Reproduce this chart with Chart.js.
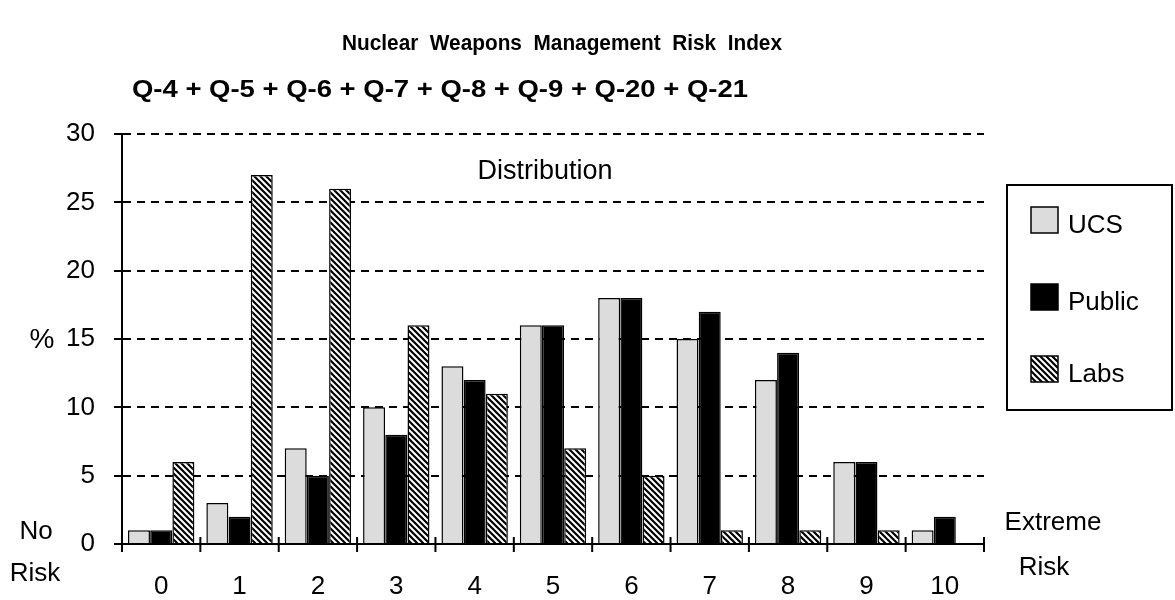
<!DOCTYPE html>
<html>
<head>
<meta charset="utf-8">
<script src="https://cdn.jsdelivr.net/npm/chart.js@4"></script>
<style>
  body { margin: 0; background: #fff; }
  #wrap { width: 1175px; height: 600px; }
</style>
</head>
<body>
<div id="wrap"><canvas id="riskChart" width="1175" height="600"></canvas></div>
<script>
// Values (percent of respondents)
const categories = ['0', '1', '2', '3', '4', '5', '6', '7', '8', '9', '10'];
const ucsValues = [1, 3, 7, 10, 13, 16, 18, 15, 12, 6, 1];
const publicValues = [1, 2, 5, 8, 12, 16, 18, 17, 14, 6, 2];
const labsValues = [6, 27, 26, 16, 11, 7, 5, 1, 1, 1, null];
const seriesNames = ['UCS', 'Public', 'Labs'];
const yTicks = [0, 5, 10, 15, 20, 25, 30];

const FONT = '"Liberation Sans", Arial, sans-serif';

// diagonal hatch for the Labs bars
function makeHatch() {
    const c = document.createElement('canvas');
    c.width = 6;
    c.height = 6;
    const g = c.getContext('2d');
    g.fillStyle = '#fff';
    g.fillRect(0, 0, 6, 6);
    g.strokeStyle = '#000';
    g.lineWidth = 2.2;
    g.beginPath();
    g.moveTo(-1, -1); g.lineTo(7, 7);
    g.moveTo(-1, 5); g.lineTo(1, 7);
    g.moveTo(5, -1); g.lineTo(7, 1);
    g.stroke();
    return g.createPattern(c, 'repeat');
}
const hatch = makeHatch();
const fills = ['#dcdcdc', '#000000', hatch];

// text fitted to a given width (the original type is stretched sideways)
function fitText(ctx, text, x, y, width, align) {
    const w = ctx.measureText(text).width;
    ctx.save();
    ctx.translate(x, y);
    ctx.scale(width / w, 1);
    ctx.textAlign = align;
    ctx.fillText(text, 0, 0);
    ctx.restore();
}

const decorations = {
    id: 'decorations',
    afterDraw(chart) {
        const ctx = chart.ctx;
        ctx.save();
        ctx.fillStyle = '#000';
        ctx.textBaseline = 'middle';

        ctx.font = 'bold 22px ' + FONT;
        fitText(ctx, 'Nuclear  Weapons  Management  Risk  Index', 562, 44, 440, 'center');
        ctx.font = 'bold 24px ' + FONT;
        fitText(ctx, 'Q-4 + Q-5 + Q-6 + Q-7 + Q-8 + Q-9 + Q-20 + Q-21', 132, 90, 616, 'left');

        ctx.font = '27px ' + FONT;
        ctx.textAlign = 'center';
        ctx.fillText('Distribution', 545, 172);
        ctx.font = '26px ' + FONT;
        ctx.fillText('No', 36, 532);
        ctx.fillText('Risk', 35, 574);
        ctx.fillText('Extreme', 1053, 523);
        ctx.fillText('Risk', 1044, 568);
        ctx.font = '28px ' + FONT;
        ctx.fillText('%', 42, 340);

        // legend box
        ctx.lineWidth = 2;
        ctx.strokeStyle = '#000';
        ctx.strokeRect(1007, 185, 165, 225);
        ctx.font = '26px ' + FONT;
        ctx.textAlign = 'left';
        ctx.textBaseline = 'alphabetic';
        const swatchTops = [207, 284, 356];
        seriesNames.forEach((name, i) => {
            ctx.fillStyle = fills[i];
            ctx.fillRect(1031, swatchTops[i], 27, 26);
            ctx.lineWidth = 1.5;
            ctx.strokeRect(1031, swatchTops[i], 27, 26);
            ctx.fillStyle = '#000';
            ctx.fillText(name, 1068, swatchTops[i] + 26);
        });

        // x-axis tick marks crossing the axis
        const x = chart.scales.x;
        const y0 = chart.scales.y.getPixelForValue(0);
        const step = x.getPixelForValue(1) - x.getPixelForValue(0);
        ctx.lineWidth = 2;
        ctx.beginPath();
        for (let i = 0; i <= categories.length; i++) {
            const px = x.getPixelForValue(0) - step / 2 + i * step;
            ctx.moveTo(px, y0 - 7);
            ctx.lineTo(px, y0 + 8);
        }
        ctx.stroke();
        ctx.restore();
    }
};

new Chart(document.getElementById('riskChart'), {
    type: 'bar',
    data: {
        labels: categories,
        datasets: [
            { label: seriesNames[0], data: ucsValues, backgroundColor: fills[0], borderColor: '#000', borderWidth: 1.5 },
            { label: seriesNames[1], data: publicValues, backgroundColor: fills[1], borderColor: '#000', borderWidth: 1.5 },
            { label: seriesNames[2], data: labsValues, backgroundColor: fills[2], borderColor: '#000', borderWidth: 1.5 }
        ]
    },
    options: {
        responsive: false,
        animation: false,
        layout: { padding: { top: 134, right: 191, left: 0, bottom: 0 } },
        datasets: { bar: { categoryPercentage: 0.85, barPercentage: 0.99 } },
        plugins: { legend: { display: false }, tooltip: { enabled: false }, title: { display: false } },
        scales: {
            x: {
                grid: { display: true, drawOnChartArea: false, drawTicks: false, color: '#000' },
                border: { display: true, color: '#000', width: 2 },
                ticks: { color: '#000', font: { family: FONT, size: 26 }, padding: 27 },
                afterFit: s => { s.height = 56; }
            },
            y: {
                min: 0,
                max: 30,
                afterBuildTicks: s => { s.ticks = yTicks.map(v => ({ value: v })); },
                grid: { color: '#000', lineWidth: 2, tickLength: 8, tickColor: '#000', tickWidth: 2 },
                border: { display: true, color: '#000', width: 2, dash: [8, 6] },
                ticks: { color: '#000', font: { family: FONT, size: 26 }, padding: 19 },
                afterFit: s => { s.width = 122; }
            }
        }
    },
    plugins: [decorations]
});
</script>
</body>
</html>
